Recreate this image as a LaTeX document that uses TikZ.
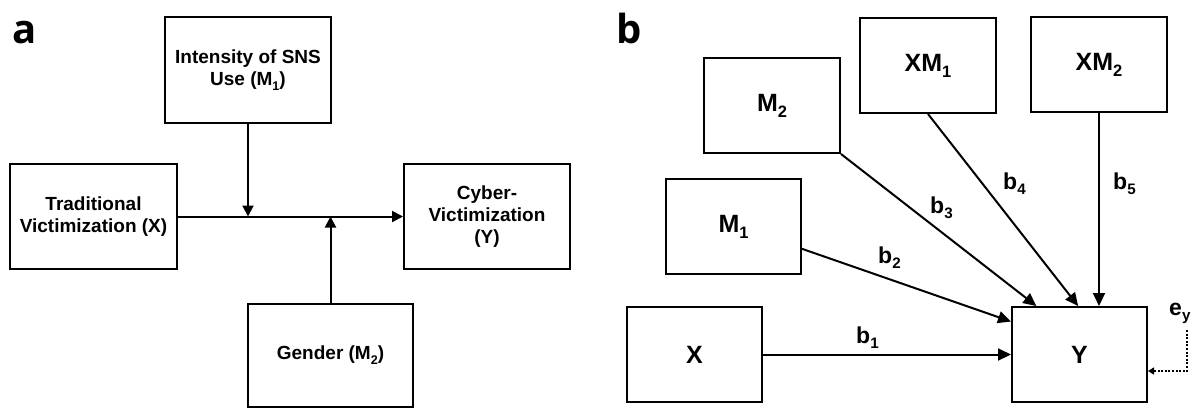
\documentclass[tikz,border=0pt]{standalone}
\usepackage{fontspec}
\setmainfont{Liberation Sans}
\newfontfamily\panelfont{Open Sans}
\usetikzlibrary{arrows.meta,calc}
\newcommand\subx[1]{\raisebox{-0.24em}{\scalebox{0.66}{#1}}}
\tikzset{
  boxa/.style={draw=black, line width=2pt, inner sep=0pt, align=center,
    font=\bfseries\fontsize{19}{22.3}\selectfont},
  boxb/.style={draw=black, line width=2pt, inner sep=0pt, align=center,
    minimum width=135pt, minimum height=95pt,
    font=\bfseries\fontsize{25}{28}\selectfont},
  arra/.style={line width=2pt, -{Triangle[length=11pt,width=11pt]}},
  arrb/.style={line width=2pt, -{Triangle[length=13pt,width=12pt]}},
  coef/.style={anchor=base west, inner sep=0pt, font=\bfseries\fontsize{23}{26}\selectfont},
  plabel/.style={anchor=base west, inner sep=0pt, font=\panelfont\bfseries\fontsize{40}{44}\selectfont},
  errarr/.style={line width=2pt, dash pattern=on 2pt off 1.6pt, -{Triangle[length=6pt,width=7pt]}}
}
\begin{document}
\begin{tikzpicture}[x=1pt,y=-1pt]
\useasboundingbox (0,0) rectangle (1204,408);
\fill[white] (0,0) rectangle (1204,408);

% ---------- panel a ----------
\node[plabel] (la) at (12,43) {a};
\node[boxa, minimum width=166pt, minimum height=106pt] (M1a) at (248,70) {Intensity of SNS\\Use (M\subx{1})};
\node[boxa, minimum width=167pt, minimum height=105pt] (Xa) at (93.5,216.5) {Traditional\\Victimization (X)};
\node[boxa, minimum width=166pt, minimum height=105pt] (Ya) at (487,216.5) {Cyber-\\Victimization\\(Y)};
\node[boxa, minimum width=165pt, minimum height=103pt] (Ga) at (330.5,355) {Gender (M\subx{2})};

\draw[arra] (Xa.east) -- (Ya.west);
\draw[arra] (M1a.south) -- (M1a.south |- Xa.east);
\draw[arra] (Ga.north) -- (Ga.north |- Xa.east);

% ---------- panel b ----------
\node[plabel] (lb) at (616,43) {b};
\node[boxb, minimum width=136pt] (M2) at (772,105.5) {M\subx{2}};
\node[boxb, minimum width=136pt] (XM1) at (928,65.5) {XM\subx{1}};
\node[boxb, minimum width=136pt] (XM2) at (1099,64.5) {XM\subx{2}};
\node[boxb] (M1b) at (733.5,226.5) {M\subx{1}};
\node[boxb] (Xb) at (694.5,354.5) {X};
\node[boxb] (Yb) at (1079.5,354.5) {Y};

\draw[arrb] (Xb.east) -- (Yb.west);
\draw[arrb] ($(M1b.south east)!0.27!(M1b.north east)$) -- ($(Yb.north west)!0.16!(Yb.south west)$);
\draw[arrb] (M2.south east) -- ($(Yb.north west)!0.185!(Yb.north east)$);
\draw[arrb] (XM1.south) -- ($(Yb.north west)!0.49!(Yb.north east)$);
\draw[arrb] (XM2.south) -- (XM2.south |- Yb.north);

\node[coef] (b1) at (856,343) {b\subx{1}};
\node[coef] (b2) at (878,263) {b\subx{2}};
\node[coef] (b3) at (930,213) {b\subx{3}};
\node[coef] (b4) at (1003,189) {b\subx{4}};
\node[coef] (b5) at (1113,189) {b\subx{5}};
\node[coef] (ey) at (1169,315) {e\subx{y}};

\coordinate (eyt) at (1187,330);
\draw[errarr] (eyt) |- ($(Yb.north east)!0.67!(Yb.south east)$);
\end{tikzpicture}
\end{document}
